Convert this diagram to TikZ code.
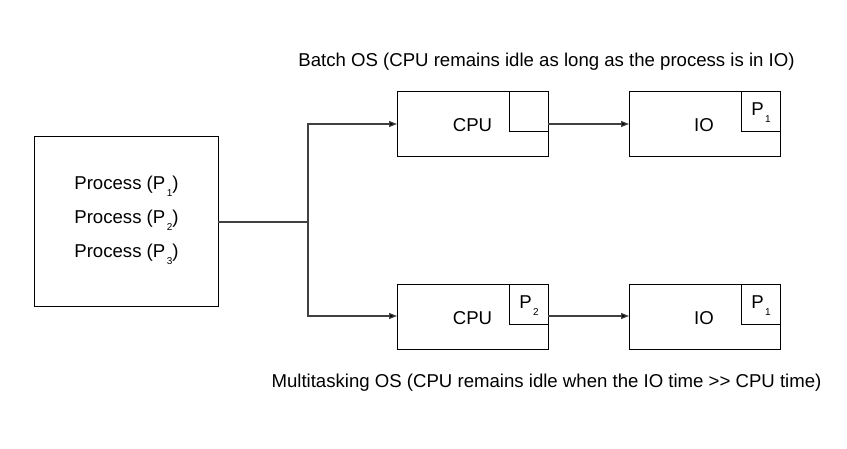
\documentclass[tikz,border=0pt]{standalone}
\usepackage{fontspec}
\setmainfont{Liberation Sans}
\usetikzlibrary{arrows.meta}
\newcommand{\Pn}[1]{P\kern1.5pt\raisebox{-7.5pt}{\fontsize{10}{10}\selectfont #1}}
\begin{document}
\begin{tikzpicture}[x=1pt,y=-1pt,
  box/.style={draw=black,line width=0.9pt,fill=white},
  lbl/.style={font=\fontsize{18.6}{20}\selectfont,inner sep=0pt,anchor=base},
  conn/.style={draw=black!75,line width=1.2pt},
  arr/.style={conn,-{Triangle[length=8pt,width=6pt,fill=black]}}]
\useasboundingbox (0,0) rectangle (847,448);
% process box
\draw[box] (34,136) rectangle (218,306);
\coordinate (procR) at (218,222);
\node[lbl] (p1) at (126.5,189) {Process (\Pn{1})};
\node[lbl] (p2) at (126.5,223) {Process (\Pn{2})};
\node[lbl] (p3) at (126.5,257) {Process (\Pn{3})};
% CPU top
\draw[box] (397,91) rectangle (548,156);
\draw[box] (509,91) rectangle (548,131);
\node[lbl] (cpu1) at (472.5,131) {CPU};
\coordinate (cpu1L) at (397,124);
\coordinate (cpu1R) at (548,124);
% IO top
\draw[box] (629,91) rectangle (780,156);
\draw[box] (741,91) rectangle (780,131);
\node[lbl] (io1) at (704,131) {IO};
\node[lbl] (io1p) at (761,115) {\Pn{1}};
\coordinate (io1L) at (629,124);
% CPU bottom
\draw[box] (397,284) rectangle (548,349);
\draw[box] (509,284) rectangle (548,324);
\node[lbl] (cpu2) at (472.5,324) {CPU};
\node[lbl] (cpu2p) at (529,308) {\Pn{2}};
\coordinate (cpu2L) at (397,316);
\coordinate (cpu2R) at (548,316);
% IO bottom
\draw[box] (629,284) rectangle (780,349);
\draw[box] (741,284) rectangle (780,324);
\node[lbl] (io2) at (704,324) {IO};
\node[lbl] (io2p) at (761,308) {\Pn{1}};
\coordinate (io2L) at (629,316);
% connectors
\coordinate (split) at (308,222);
\draw[conn] (procR) -- (split);
\draw[arr] (split) |- (cpu1L);
\draw[arr] (split) |- (cpu2L);
\draw[arr] (cpu1R) -- (io1L);
\draw[arr] (cpu2R) -- (io2L);
% titles
\node[lbl] (t1) at (546.5,66) {Batch OS (CPU remains idle as long as the process is in IO)};
\node[lbl] (t2) at (546.5,387) {Multitasking OS (CPU remains idle when the IO time >{}> CPU time)};
\end{tikzpicture}
\end{document}
